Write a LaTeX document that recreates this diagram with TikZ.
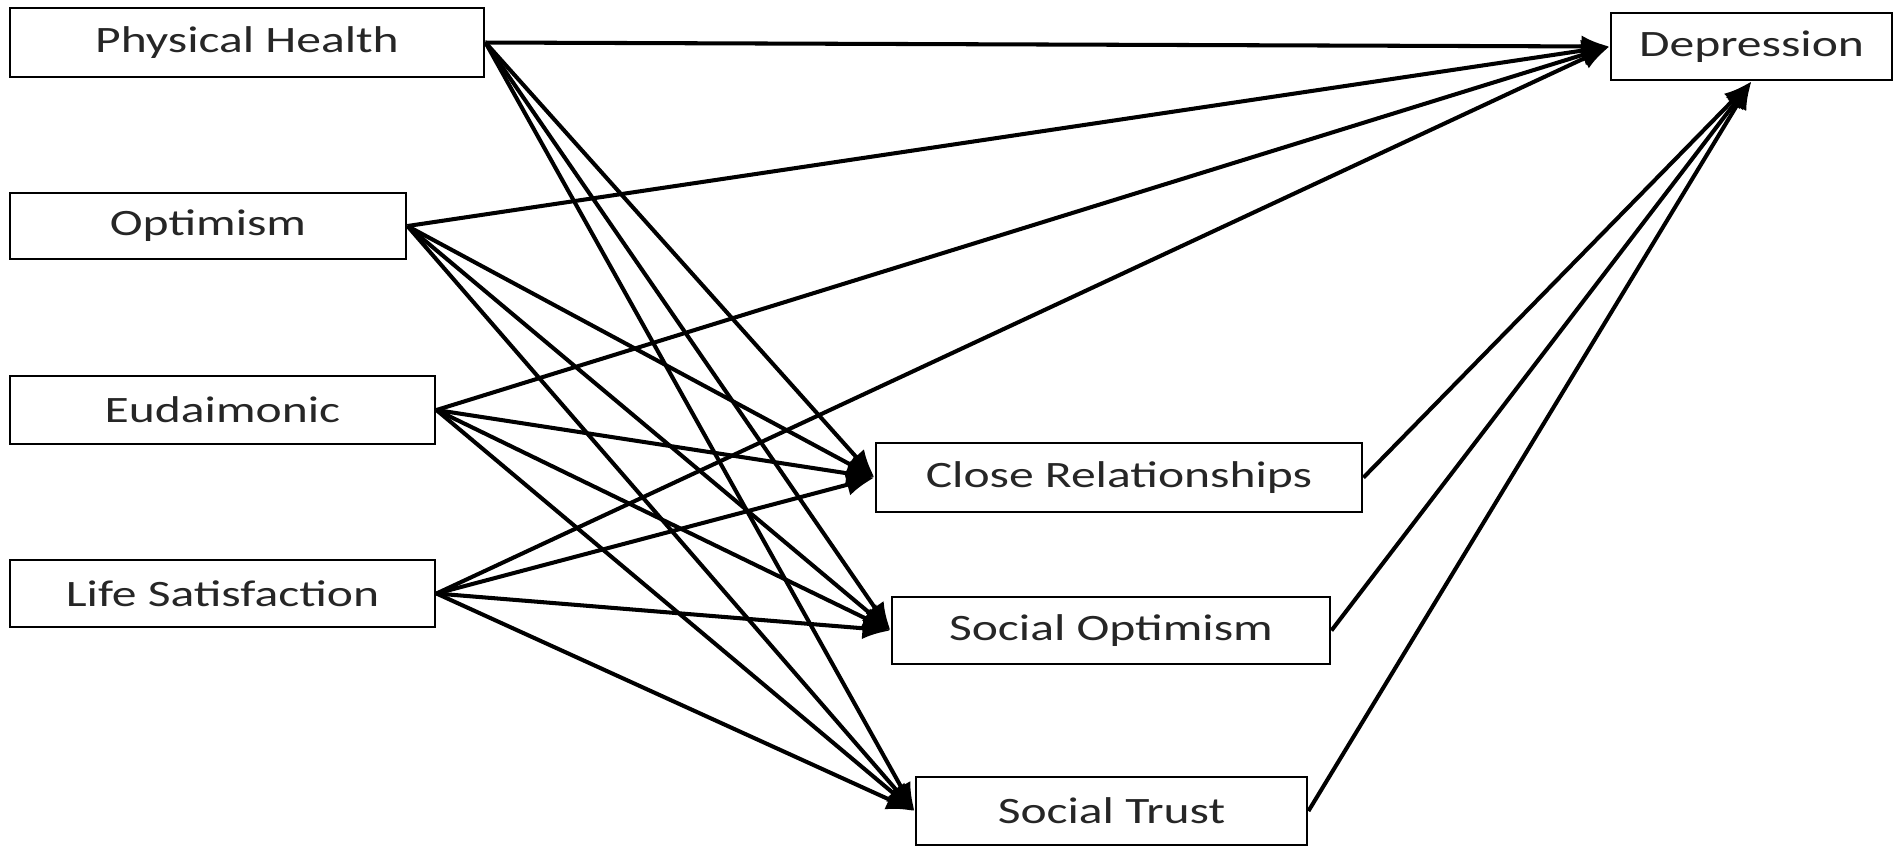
\documentclass[tikz,border=0pt]{standalone}
\usepackage{fontspec}
\setmainfont{Carlito}[FakeStretch=1.33]
\usetikzlibrary{arrows.meta}
\begin{document}
\begin{tikzpicture}[x=0.01cm,y=-0.01cm,
  box/.style={draw, line width=0.75pt, rectangle, inner sep=0pt,
    text=black!85, font=\fontsize{10.6}{12}\selectfont},
  link/.style={line width=1.15pt, -{Latex[length=0.28cm,width=0.22cm]}}]
\useasboundingbox (0,0) rectangle (1902,847);

% predictors
\node[box, minimum width=4.74cm, minimum height=0.69cm] (ph)  at (247,42.5)   {Physical Health};
\node[box, minimum width=3.96cm, minimum height=0.66cm] (opt) at (208,226)    {Optimism};
\node[box, minimum width=4.25cm, minimum height=0.68cm] (eud) at (222.5,410)  {Eudaimonic};
\node[box, minimum width=4.25cm, minimum height=0.67cm] (ls)  at (222.5,593.5){Life Satisfaction};

% mediators
\node[box, minimum width=4.86cm, minimum height=0.69cm] (cr) at (1119,477.5) {Close Relationships};
\node[box, minimum width=4.38cm, minimum height=0.67cm] (so) at (1111,630.5) {Social Optimism};
\node[box, minimum width=3.91cm, minimum height=0.68cm] (st) at (1111.5,811) {Social Trust};

% outcome
\node[box, minimum width=2.81cm, minimum height=0.67cm] (dep) at (1751.5,46.5) {Depression};

% direct paths
\foreach \p in {ph,opt,eud,ls}{
  \draw[link] (\p.east) -- (dep.west);
  \foreach \m in {cr,so,st}{
    \draw[link] (\p.east) -- (\m.west);
  }
}

% mediated paths
\foreach \m in {cr,so,st}{
  \draw[link] (\m.east) -- (dep.south);
}
\end{tikzpicture}
\end{document}
